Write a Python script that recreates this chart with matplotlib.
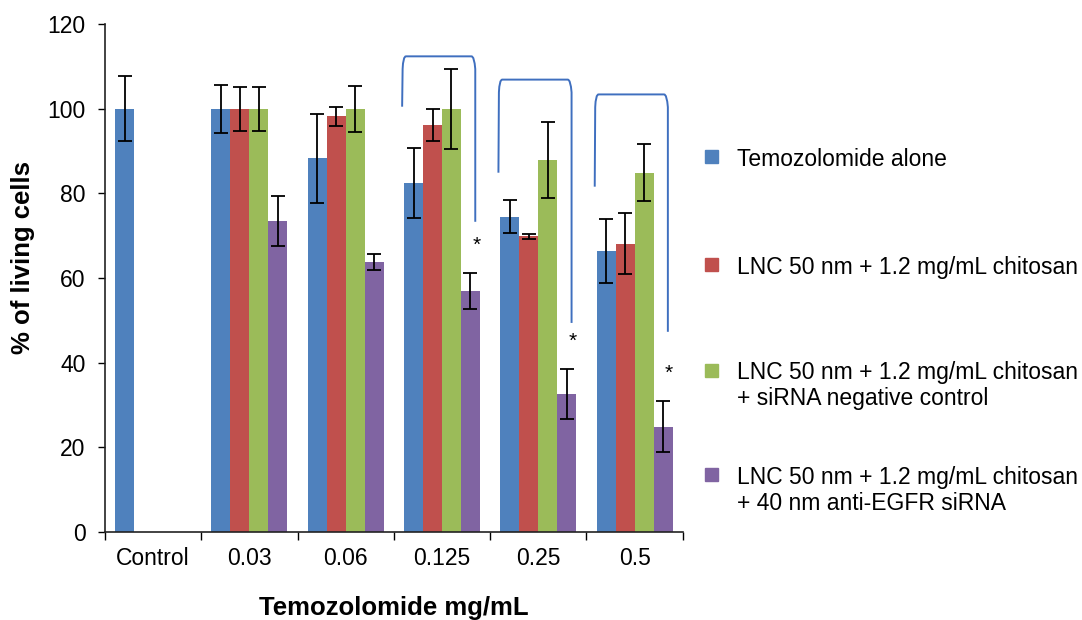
import numpy as np
import matplotlib.pyplot as plt
from matplotlib.path import Path
from matplotlib.patches import PathPatch, Rectangle

plt.rcParams['font.family'] = ['Liberation Sans', 'DejaVu Sans']

categories = ['Control', '0.03', '0.06', '0.125', '0.25', '0.5']
series_names = ['Temozolomide alone',
                'LNC 50 nm + 1.2 mg/mL chitosan',
                'LNC 50 nm + 1.2 mg/mL chitosan\n+ siRNA negative control',
                'LNC 50 nm + 1.2 mg/mL chitosan\n+ 40 nm anti-EGFR siRNA']
colors = ['#4F81BD', '#C0504D', '#9BBB59', '#8064A2']

# nan = no bar in that group
temozolomide = [100, 100, 88.3, 82.5, 74.5, 66.4]
temozolomide_err = [7.7, 5.6, 10.5, 8.3, 3.9, 7.5]
lnc = [np.nan, 100, 98.2, 96.2, 69.9, 68.1]
lnc_err = [np.nan, 5.2, 2.2, 3.8, 0.6, 7.2]
lnc_neg = [np.nan, 100, 100, 100, 88.0, 84.9]
lnc_neg_err = [np.nan, 5.2, 5.5, 9.5, 9.0, 6.8]
lnc_egfr = [np.nan, 73.5, 63.7, 57.0, 32.6, 24.9]
lnc_egfr_err = [np.nan, 5.9, 1.9, 4.2, 6.0, 6.0]

# significance brackets: group index, top, left foot, right foot
bracket_groups = [3, 4, 5]
bracket_top = [112.4, 106.9, 103.4]
bracket_left = [100.5, 84.9, 81.6]
bracket_right = [73.3, 49.4, 47.3]

values = [temozolomide, lnc, lnc_neg, lnc_egfr]
errors = [temozolomide_err, lnc_err, lnc_neg_err, lnc_egfr_err]

fig = plt.figure(figsize=(10.82, 6.2), dpi=100)
ax = fig.add_axes([0.097, 0.142, 0.534, 0.819])

x = np.arange(len(categories))
w = 0.197
for k in range(4):
    pos = x + (k - 1.5) * w
    ax.bar(pos, values[k], w, color=colors[k], zorder=2)
    ax.errorbar(pos, values[k], yerr=errors[k], fmt='none', ecolor='black',
                elinewidth=1.3, capsize=5, capthick=1.3, zorder=3)

# stars above the anti-EGFR bars and brackets
for i, g in enumerate(bracket_groups):
    px = x[g] + 1.5 * w
    ytop = lnc_egfr[g] + lnc_egfr_err[g]
    ax.text(px + 0.06, ytop + 5.2, '*', ha='center', va='baseline', fontsize=15, zorder=4)
    xl = x[g] - 2 * w - 0.02
    xr = px + 0.05
    verts = [(xl, bracket_left[i]), (xl + 0.005, bracket_top[i] - 3),
             (xl + 0.01, bracket_top[i]), (xl + 0.04, bracket_top[i]),
             (xr - 0.04, bracket_top[i]), (xr - 0.01, bracket_top[i]),
             (xr, bracket_top[i] - 3), (xr, bracket_right[i])]
    codes = [Path.MOVETO, Path.LINETO, Path.CURVE3, Path.CURVE3,
             Path.LINETO, Path.CURVE3, Path.CURVE3, Path.LINETO]
    ax.add_patch(PathPatch(Path(verts, codes), fill=False, edgecolor='#3F6FBF',
                           lw=1.4, zorder=4, clip_on=False))

ax.set_xlim(-0.5, len(categories) - 0.5)
ax.set_ylim(0, 120)
ax.set_yticks(np.arange(0, 121, 20))
ax.set_xticks(np.arange(-0.5, len(categories), 1))
ax.set_xticklabels([])
ax.set_xticks(x, minor=True)
ax.set_xticklabels(categories, minor=True)
ax.tick_params(axis='x', which='major', length=6, width=1, direction='out')
ax.tick_params(axis='x', which='minor', length=0, pad=11, labelsize=16.5)
ax.tick_params(axis='y', length=5, width=1, direction='out', pad=9, labelsize=16.5)
for s in ['top', 'right']:
    ax.spines[s].set_visible(False)
for s in ['left', 'bottom']:
    ax.spines[s].set_linewidth(1.2)
    ax.spines[s].set_color('#222222')

fig.text(0.364, 0.008, 'Temozolomide mg/mL', ha='center', va='baseline',
         fontsize=18.5, fontweight='bold')
fig.text(0.021, 0.585, '% of living cells', ha='center', va='center',
         rotation=90, fontsize=18.5, fontweight='bold')

# legend drawn by hand so the squares line up with the first text line
leg_y = [0.747, 0.573, 0.403, 0.234]
for k in range(4):
    fig.patches.append(Rectangle((705 / 1082, leg_y[k] - 6.5 / 620), 13 / 1082, 13 / 620,
                                 transform=fig.transFigure, color=colors[k]))
    fig.text(737 / 1082, leg_y[k] + 9 / 620, series_names[k], ha='left', va='top',
             fontsize=16.5, linespacing=1.17)

fig.savefig('out.png', dpi=100)
